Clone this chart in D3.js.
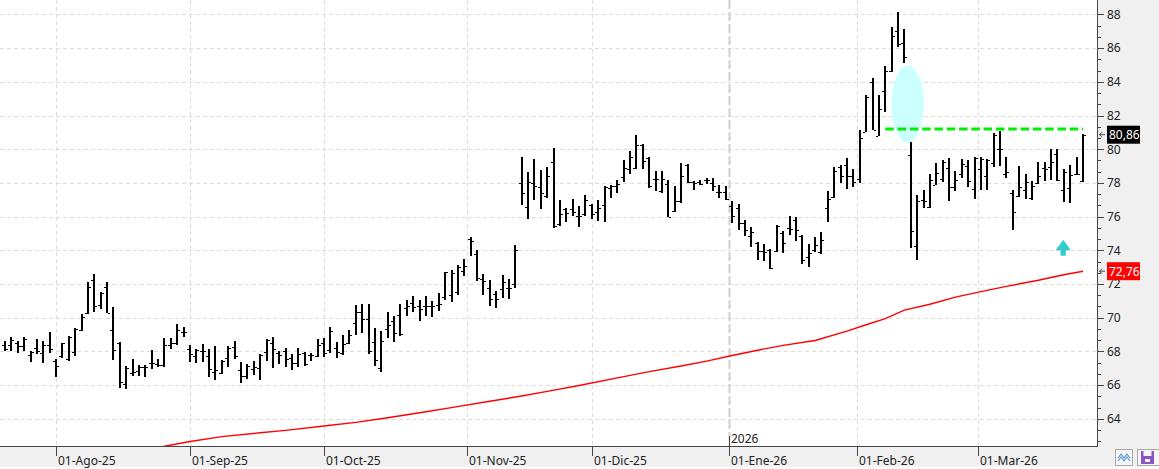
<!DOCTYPE html>
<html>
<head>
<meta charset="utf-8">
<script src="https://cdn.jsdelivr.net/npm/d3@7/dist/d3.min.js"></script>
<style>
html, body { margin: 0; padding: 0; background: #fff; }
svg { display: block; font-family: "Noto Sans", sans-serif; }
</style>
</head>
<body>
<svg id="chart"></svg>
<script>
const WIDTH = 1159;
const HEIGHT = 469;
const PLOT_RIGHT = 1097;
const PLOT_BOTTOM = 447;

// daily bars: [open, high, low, close]
const ohlc = [
	[68.37, 68.61, 68.04, 68.17], [68.37, 68.83, 68.04, 68.67], [68.47, 68.61, 67.92, 68.31], [68.31, 68.83, 68.04, 68.73],
	[67.78, 68.02, 67.38, 67.94], [68.23, 68.73, 67.84, 68.04], [67.88, 68.61, 67.32, 68.37], [68.37, 69.13, 67.88, 68.14],
	[67.42, 67.54, 66.49, 67.12], [67.74, 68.47, 67.62, 68.47], [67.54, 68.91, 67.44, 68.83], [67.98, 69.37, 67.72, 69.31],
	[69.27, 70.22, 69.23, 70.02], [70.26, 72.09, 70.22, 71.81], [72.25, 72.61, 70.36, 70.70], [70.76, 71.55, 70.52, 71.46],
	[71.81, 72.09, 70.30, 70.30], [69.27, 70.64, 67.48, 68.08], [68.47, 68.57, 65.85, 66.19], [66.05, 67.12, 65.77, 67.04],
	[66.72, 67.54, 66.54, 66.78], [66.84, 67.18, 66.54, 67.08], [67.08, 67.22, 66.49, 67.08], [67.34, 68.08, 66.98, 67.34],
	[67.28, 67.54, 67.08, 67.18], [67.18, 68.81, 67.08, 68.37], [68.37, 68.77, 68.17, 68.47], [68.47, 69.61, 68.37, 69.27],
	[69.17, 69.43, 68.87, 69.17], [68.17, 68.37, 67.38, 67.84], [67.72, 68.14, 67.34, 68.08], [68.04, 68.43, 67.38, 68.04],
	[67.72, 68.14, 66.49, 66.94], [66.78, 68.31, 66.33, 66.88], [66.72, 67.48, 66.64, 67.44], [67.62, 68.35, 67.08, 68.21],
	[68.27, 68.61, 67.52, 67.72], [66.88, 67.38, 66.15, 66.54], [66.54, 67.24, 66.35, 67.14], [66.98, 67.42, 66.58, 67.08],
	[67.03, 67.82, 66.33, 67.76], [67.96, 68.76, 67.43, 68.70], [68.50, 68.86, 67.00, 68.16], [67.90, 68.00, 67.27, 67.76],
	[68.00, 68.22, 67.07, 67.53], [67.63, 67.82, 66.91, 67.31], [67.31, 68.22, 67.07, 67.86], [67.90, 67.96, 67.11, 67.23],
	[67.76, 67.90, 67.43, 67.76], [67.71, 68.76, 67.67, 68.40], [68.50, 68.82, 67.67, 67.90], [68.10, 69.46, 67.92, 69.22],
	[68.20, 68.56, 67.61, 67.96], [67.90, 68.96, 67.77, 68.46], [68.50, 69.26, 68.46, 69.00], [69.71, 70.75, 68.96, 70.31],
	[70.31, 70.81, 69.10, 69.95], [69.90, 70.81, 67.86, 68.00], [68.54, 69.40, 67.13, 67.47], [67.03, 69.22, 66.77, 68.62],
	[69.30, 70.31, 68.82, 69.55], [69.80, 70.11, 68.56, 69.12], [70.15, 70.79, 68.92, 69.06], [70.60, 71.05, 70.11, 70.71],
	[70.90, 71.28, 70.35, 70.65], [70.71, 71.05, 69.81, 70.50], [70.71, 71.28, 70.09, 70.71], [70.71, 71.00, 70.05, 70.71],
	[70.75, 71.44, 70.41, 70.80], [71.23, 72.71, 71.03, 72.69], [71.36, 72.85, 70.91, 72.65], [71.52, 73.14, 71.32, 73.00],
	[72.75, 73.50, 72.45, 73.08], [74.68, 74.76, 73.64, 74.57], [73.77, 74.03, 72.15, 72.35], [72.30, 72.61, 71.36, 72.15],
	[71.76, 72.25, 70.67, 71.13], [71.40, 71.60, 70.57, 71.13], [71.70, 72.55, 71.17, 72.10], [71.76, 72.31, 71.13, 71.76],
	[72.00, 74.29, 71.76, 73.99], [77.98, 79.51, 76.66, 77.43], [76.56, 78.64, 75.85, 78.04], [77.98, 79.43, 77.00, 77.83],
	[77.75, 78.77, 76.44, 77.43], [77.25, 78.93, 77.09, 78.42], [79.23, 80.06, 75.32, 75.42], [75.57, 76.96, 75.47, 76.15],
	[76.46, 76.50, 75.65, 76.21], [76.46, 77.06, 76.05, 76.30], [76.05, 76.60, 75.36, 76.05], [76.15, 77.29, 76.05, 77.00],
	[76.68, 76.76, 75.85, 76.17], [76.27, 76.96, 75.71, 76.50], [76.68, 77.83, 75.65, 77.75], [77.69, 77.89, 77.13, 77.79],
	[77.80, 78.18, 77.39, 77.94], [78.34, 79.37, 78.08, 78.87], [78.81, 79.90, 78.52, 79.53], [78.91, 80.85, 78.81, 80.26],
	[80.26, 80.32, 78.81, 79.31], [79.47, 79.51, 77.69, 77.79], [78.22, 78.68, 77.53, 78.22], [77.53, 78.68, 77.39, 78.22],
	[77.92, 78.18, 75.97, 76.00], [76.34, 77.83, 76.30, 76.94], [76.94, 79.17, 76.80, 78.42], [79.07, 79.11, 77.98, 78.08],
	[78.04, 78.12, 77.55, 77.98], [78.08, 78.18, 77.89, 77.92], [78.20, 78.28, 77.94, 78.20], [78.02, 78.28, 77.49, 77.79],
	[77.45, 77.85, 77.13, 77.45], [77.45, 77.83, 76.96, 77.06], [76.60, 76.94, 75.61, 76.05], [76.54, 76.76, 75.18, 75.61],
	[75.61, 75.77, 74.82, 75.22], [74.86, 75.38, 74.17, 75.06], [74.43, 74.49, 73.44, 73.93], [73.97, 74.39, 73.34, 73.87],
	[74.03, 74.09, 72.89, 72.94], [73.97, 75.51, 73.89, 75.47], [75.00, 75.12, 73.83, 74.43], [75.32, 76.05, 74.88, 75.28],
	[75.81, 75.95, 74.58, 75.22], [74.86, 74.92, 73.20, 73.44], [73.60, 74.39, 73.00, 73.83], [74.00, 74.78, 73.87, 74.31],
	[73.90, 75.08, 73.77, 74.62], [76.50, 77.49, 75.65, 77.04], [77.19, 78.97, 77.09, 78.72], [78.97, 79.07, 78.02, 78.38],
	[79.07, 79.47, 77.63, 78.42], [78.40, 78.81, 77.73, 78.08], [78.22, 81.15, 77.98, 80.65], [81.05, 83.22, 81.05, 83.12],
	[84.01, 84.21, 81.11, 81.15], [80.79, 83.22, 80.79, 82.37], [83.48, 84.94, 82.23, 84.66], [84.66, 87.27, 84.60, 86.72],
	[87.02, 88.12, 86.09, 86.23], [86.28, 87.11, 85.10, 85.45], [79.66, 80.40, 74.13, 75.16], [74.27, 77.29, 73.44, 76.94],
	[77.00, 77.59, 76.50, 76.90], [76.56, 78.54, 76.50, 78.18], [77.89, 79.17, 77.89, 78.58], [78.22, 79.37, 78.08, 79.27],
	[78.87, 79.47, 76.90, 77.75], [77.75, 78.72, 77.49, 78.18], [78.54, 79.41, 78.28, 79.13], [79.03, 79.33, 77.73, 78.12],
	[77.63, 79.53, 77.06, 79.47], [78.81, 79.53, 77.59, 79.41], [78.42, 79.41, 77.55, 79.37], [79.17, 80.95, 78.97, 80.85],
	[80.02, 81.09, 79.03, 80.00], [78.54, 79.53, 78.28, 78.62], [77.43, 77.55, 75.22, 76.25], [77.23, 79.01, 77.19, 77.75],
	[77.59, 78.54, 77.06, 78.08], [77.09, 78.12, 77.00, 77.79], [78.02, 79.27, 77.92, 78.38], [78.91, 79.25, 78.12, 78.85],
	[78.95, 80.04, 78.16, 79.25], [79.70, 80.02, 78.12, 78.16], [77.57, 78.85, 76.88, 78.62], [77.67, 79.05, 76.78, 78.46],
	[78.50, 79.55, 78.46, 78.52], [78.10, 80.89, 78.06, 80.86],
];

// moving average, read at these bar positions
const maIndex = [24, 29, 34, 40, 44, 50, 55, 60, 66, 70, 76, 81, 85, 90, 97, 101, 106, 110, 114, 118, 122, 127, 132, 135, 138, 141, 145, 149, 153, 157, 162, 166, 169];
const maValue = [62.30, 62.65, 62.94, 63.17, 63.31, 63.57, 63.79, 64.06, 64.42, 64.66, 65.04, 65.35, 65.63, 65.98, 66.50, 66.80, 67.13, 67.42, 67.76, 68.07, 68.36, 68.65, 69.20, 69.58, 69.95, 70.45, 70.80, 71.22, 71.55, 71.86, 72.22, 72.55, 72.76];

// month labels and their position in bar units
const monthLabels = ["01-Ago-25", "01-Sep-25", "01-Oct-25", "01-Nov-25", "01-Dic-25", "01-Ene-26", "01-Feb-26", "01-Mar-26"];
const monthPos = [8, 29, 50, 72.5, 92, 113.5, 133.5, 152.5];
const yearLabel = "2026";
const yearPos = 113.5;

const priceTicks = [64, 66, 68, 70, 72, 74, 76, 78, 80, 82, 84, 86, 88];

// annotations
const resistanceLevel = 81.2;
const resistanceRange = [138, 169];
const ellipseCenter = [141.5, 82.68];
const ellipseRadius = [2.54, 2.28];
const arrowPos = [165.9, 74.62, 73.68];

const lastClose = ohlc[ohlc.length - 1][3];
const lastMa = maValue[maValue.length - 1];

const svg = d3.select("#chart").attr("width", WIDTH).attr("height", HEIGHT);

const x = d3.scaleLinear().domain([0, ohlc.length - 1]).range([5, 1083]);
const y = d3.scaleLinear().domain([64, 88]).range([418.8, 14.4]);
const comma = v => d3.format(".2f")(v).replace(".", ",");

svg.append("rect").attr("width", WIDTH).attr("height", HEIGHT).attr("fill", "#fff");

svg.append("clipPath").attr("id", "plot-clip")
	.append("rect").attr("width", PLOT_RIGHT).attr("height", PLOT_BOTTOM);
const plot = svg.append("g").attr("clip-path", "url(#plot-clip)");

// grid
plot.append("g").selectAll("line").data(priceTicks).join("line")
	.attr("x1", 0).attr("x2", PLOT_RIGHT)
	.attr("y1", d => Math.round(y(d)) + 0.5).attr("y2", d => Math.round(y(d)) + 0.5)
	.attr("stroke", "#dcdcdc").attr("stroke-dasharray", "4,3");
plot.append("g").selectAll("line").data(monthPos.filter(p => p !== yearPos)).join("line")
	.attr("x1", d => Math.round(x(d)) + 0.5).attr("x2", d => Math.round(x(d)) + 0.5)
	.attr("y1", 0).attr("y2", PLOT_BOTTOM)
	.attr("stroke", "#dcdcdc").attr("stroke-dasharray", "4,3");
plot.append("line")
	.attr("x1", Math.round(x(yearPos)) + 0.5).attr("x2", Math.round(x(yearPos)) + 0.5)
	.attr("y1", 0).attr("y2", PLOT_BOTTOM)
	.attr("stroke", "#cfcfcf").attr("stroke-width", 2).attr("stroke-dasharray", "9,3");

// highlight ellipse
plot.append("ellipse")
	.attr("cx", x(ellipseCenter[0])).attr("cy", y(ellipseCenter[1]))
	.attr("rx", x(ellipseRadius[0]) - x(0)).attr("ry", y(0) - y(ellipseRadius[1]))
	.attr("fill", "#ccffff");

// bars
const bars = plot.append("g").attr("shape-rendering", "crispEdges").attr("fill", "#000")
	.selectAll("g").data(ohlc).join("g");
bars.append("rect")
	.attr("x", (d, i) => Math.round(x(i)) - 1).attr("width", 2)
	.attr("y", d => y(d[1])).attr("height", d => Math.max(1, y(d[2]) - y(d[1])));
bars.append("rect")
	.attr("x", (d, i) => Math.round(x(i)) - 3).attr("width", 2)
	.attr("y", d => Math.round(y(d[0]))).attr("height", 1);
bars.append("rect")
	.attr("x", (d, i) => Math.round(x(i)) + 1).attr("width", 2)
	.attr("y", d => Math.round(y(d[3]))).attr("height", 1);

// moving average
const maLine = d3.line().x(d => x(d[0])).y(d => y(d[1]));
plot.append("path")
	.attr("d", maLine(maIndex.map((p, i) => [p, maValue[i]])))
	.attr("fill", "none").attr("stroke", "#ff0000").attr("stroke-width", 1.4);

// resistance
plot.append("line")
	.attr("x1", x(resistanceRange[0])).attr("x2", x(resistanceRange[1]))
	.attr("y1", y(resistanceLevel)).attr("y2", y(resistanceLevel))
	.attr("stroke", "#00ee00").attr("stroke-width", 3).attr("stroke-dasharray", "8.5,3.8");

// up arrow
{
	const cx = x(arrowPos[0]);
	const top = y(arrowPos[1]);
	const bottom = y(arrowPos[2]);
	const headBase = top + (bottom - top) * 0.66;
	plot.append("path")
		.attr("d", `M${cx},${top} L${cx + 7.6},${headBase} L${cx + 2.6},${headBase} L${cx + 2.6},${bottom}
			L${cx - 2.6},${bottom} L${cx - 2.6},${headBase} L${cx - 7.6},${headBase} Z`)
		.attr("fill", "#33cccc");
}

// right axis panel
svg.append("rect").attr("x", PLOT_RIGHT).attr("y", 0)
	.attr("width", WIDTH - PLOT_RIGHT).attr("height", HEIGHT).attr("fill", "#f0f0f0");
// bottom axis panel
svg.append("rect").attr("x", 0).attr("y", PLOT_BOTTOM)
	.attr("width", WIDTH).attr("height", HEIGHT - PLOT_BOTTOM).attr("fill", "#f0f0f0");
svg.append("rect").attr("x", 0).attr("y", 466.5)
	.attr("width", WIDTH).attr("height", 3).attr("fill", "#fafafa");

const axisG = svg.append("g").attr("shape-rendering", "crispEdges");
axisG.append("line").attr("x1", PLOT_RIGHT + 0.5).attr("x2", PLOT_RIGHT + 0.5)
	.attr("y1", 0).attr("y2", PLOT_BOTTOM).attr("stroke", "#454545");
axisG.append("line").attr("x1", 0).attr("x2", PLOT_RIGHT + 1)
	.attr("y1", PLOT_BOTTOM - 0.5).attr("y2", PLOT_BOTTOM - 0.5).attr("stroke", "#454545").attr("stroke-width", 1.5);

// price ticks (major + two minor ticks per step)
const minorTicks = d3.range(-3, 40).map(k => 62 + k * 2 / 3)
	.filter(v => y(v) > 0 && y(v) < PLOT_BOTTOM - 2 && !priceTicks.some(t => Math.abs(t - v) < 0.01));
axisG.selectAll(".minor").data(minorTicks).join("line").attr("class", "minor")
	.attr("x1", PLOT_RIGHT).attr("x2", PLOT_RIGHT + 4)
	.attr("y1", d => Math.round(y(d)) + 0.5).attr("y2", d => Math.round(y(d)) + 0.5)
	.attr("stroke", "#454545");
axisG.selectAll(".major").data(priceTicks).join("line").attr("class", "major")
	.attr("x1", PLOT_RIGHT).attr("x2", PLOT_RIGHT + 7)
	.attr("y1", d => Math.round(y(d)) + 0.5).attr("y2", d => Math.round(y(d)) + 0.5)
	.attr("stroke", "#454545");
svg.append("g").selectAll("text").data(priceTicks).join("text")
	.attr("x", 1107).attr("y", d => y(d)).attr("dy", "0.36em")
	.attr("font-size", 12).attr("fill", "#222").text(d => d);

// month ticks and labels
axisG.selectAll(".mtick").data(monthPos).join("line").attr("class", "mtick")
	.attr("x1", d => Math.round(x(d)) + 0.5).attr("x2", d => Math.round(x(d)) + 0.5)
	.attr("y1", PLOT_BOTTOM).attr("y2", PLOT_BOTTOM + 9).attr("stroke", "#454545");
svg.append("g").selectAll("text").data(monthLabels).join("text")
	.attr("x", (d, i) => Math.round(x(monthPos[i])) + 2).attr("y", 465)
	.attr("font-size", 12).attr("fill", "#222").text(d => d);

// year separator
axisG.append("line")
	.attr("x1", Math.round(x(yearPos)) + 0.5).attr("x2", Math.round(x(yearPos)) + 0.5)
	.attr("y1", PLOT_BOTTOM - 11).attr("y2", PLOT_BOTTOM).attr("stroke", "#454545");
svg.append("text").attr("x", Math.round(x(yearPos)) + 2).attr("y", 443)
	.attr("font-size", 12).attr("fill", "#222").text(yearLabel);

// last value labels
const valueLabels = [
	{ value: lastClose, fill: "#000" },
	{ value: lastMa, fill: "#ff0000" },
];
const vl = svg.append("g").selectAll("g").data(valueLabels).join("g")
	.attr("transform", d => `translate(0,${y(d.value)})`);
vl.append("path")
	.attr("d", "M1105,0 H1099.5 M1102,-2.5 L1099.5,0 L1102,2.5")
	.attr("stroke", "#444").attr("fill", "none");
vl.append("rect").attr("x", 1107).attr("y", -9).attr("width", 33).attr("height", 18)
	.attr("fill", d => d.fill);
vl.append("text").attr("x", 1109).attr("dy", "0.36em")
	.attr("font-size", 12).attr("fill", "#fff").text(d => comma(d.value));

// toolbar buttons bottom-right
const btn = svg.append("g");
btn.append("rect").attr("x", 1115.5).attr("y", 449.5).attr("width", 17).attr("height", 16)
	.attr("fill", "#f7f7f7").attr("stroke", "#a8a8a8");
btn.append("path")
	.attr("d", "M1118,458 L1121,454 L1124,458 L1127,454 L1130,458 M1118,461 L1121,457 L1124,461 L1127,457 L1130,461")
	.attr("fill", "none").attr("stroke", "#5b9bd5").attr("stroke-width", 1.2);
btn.append("rect").attr("x", 1137.5).attr("y", 449.5).attr("width", 22).attr("height", 16)
	.attr("fill", "#f7f7f7").attr("stroke", "#a8a8a8");
btn.append("rect").attr("x", 1141).attr("y", 451).attr("width", 13).attr("height", 13).attr("fill", "#8a55c8");
btn.append("rect").attr("x", 1143.5).attr("y", 451).attr("width", 8).attr("height", 5).attr("fill", "#f7f7f7");
btn.append("rect").attr("x", 1145).attr("y", 459).attr("width", 5).attr("height", 3).attr("fill", "#f7f7f7");
</script>
</body>
</html>
